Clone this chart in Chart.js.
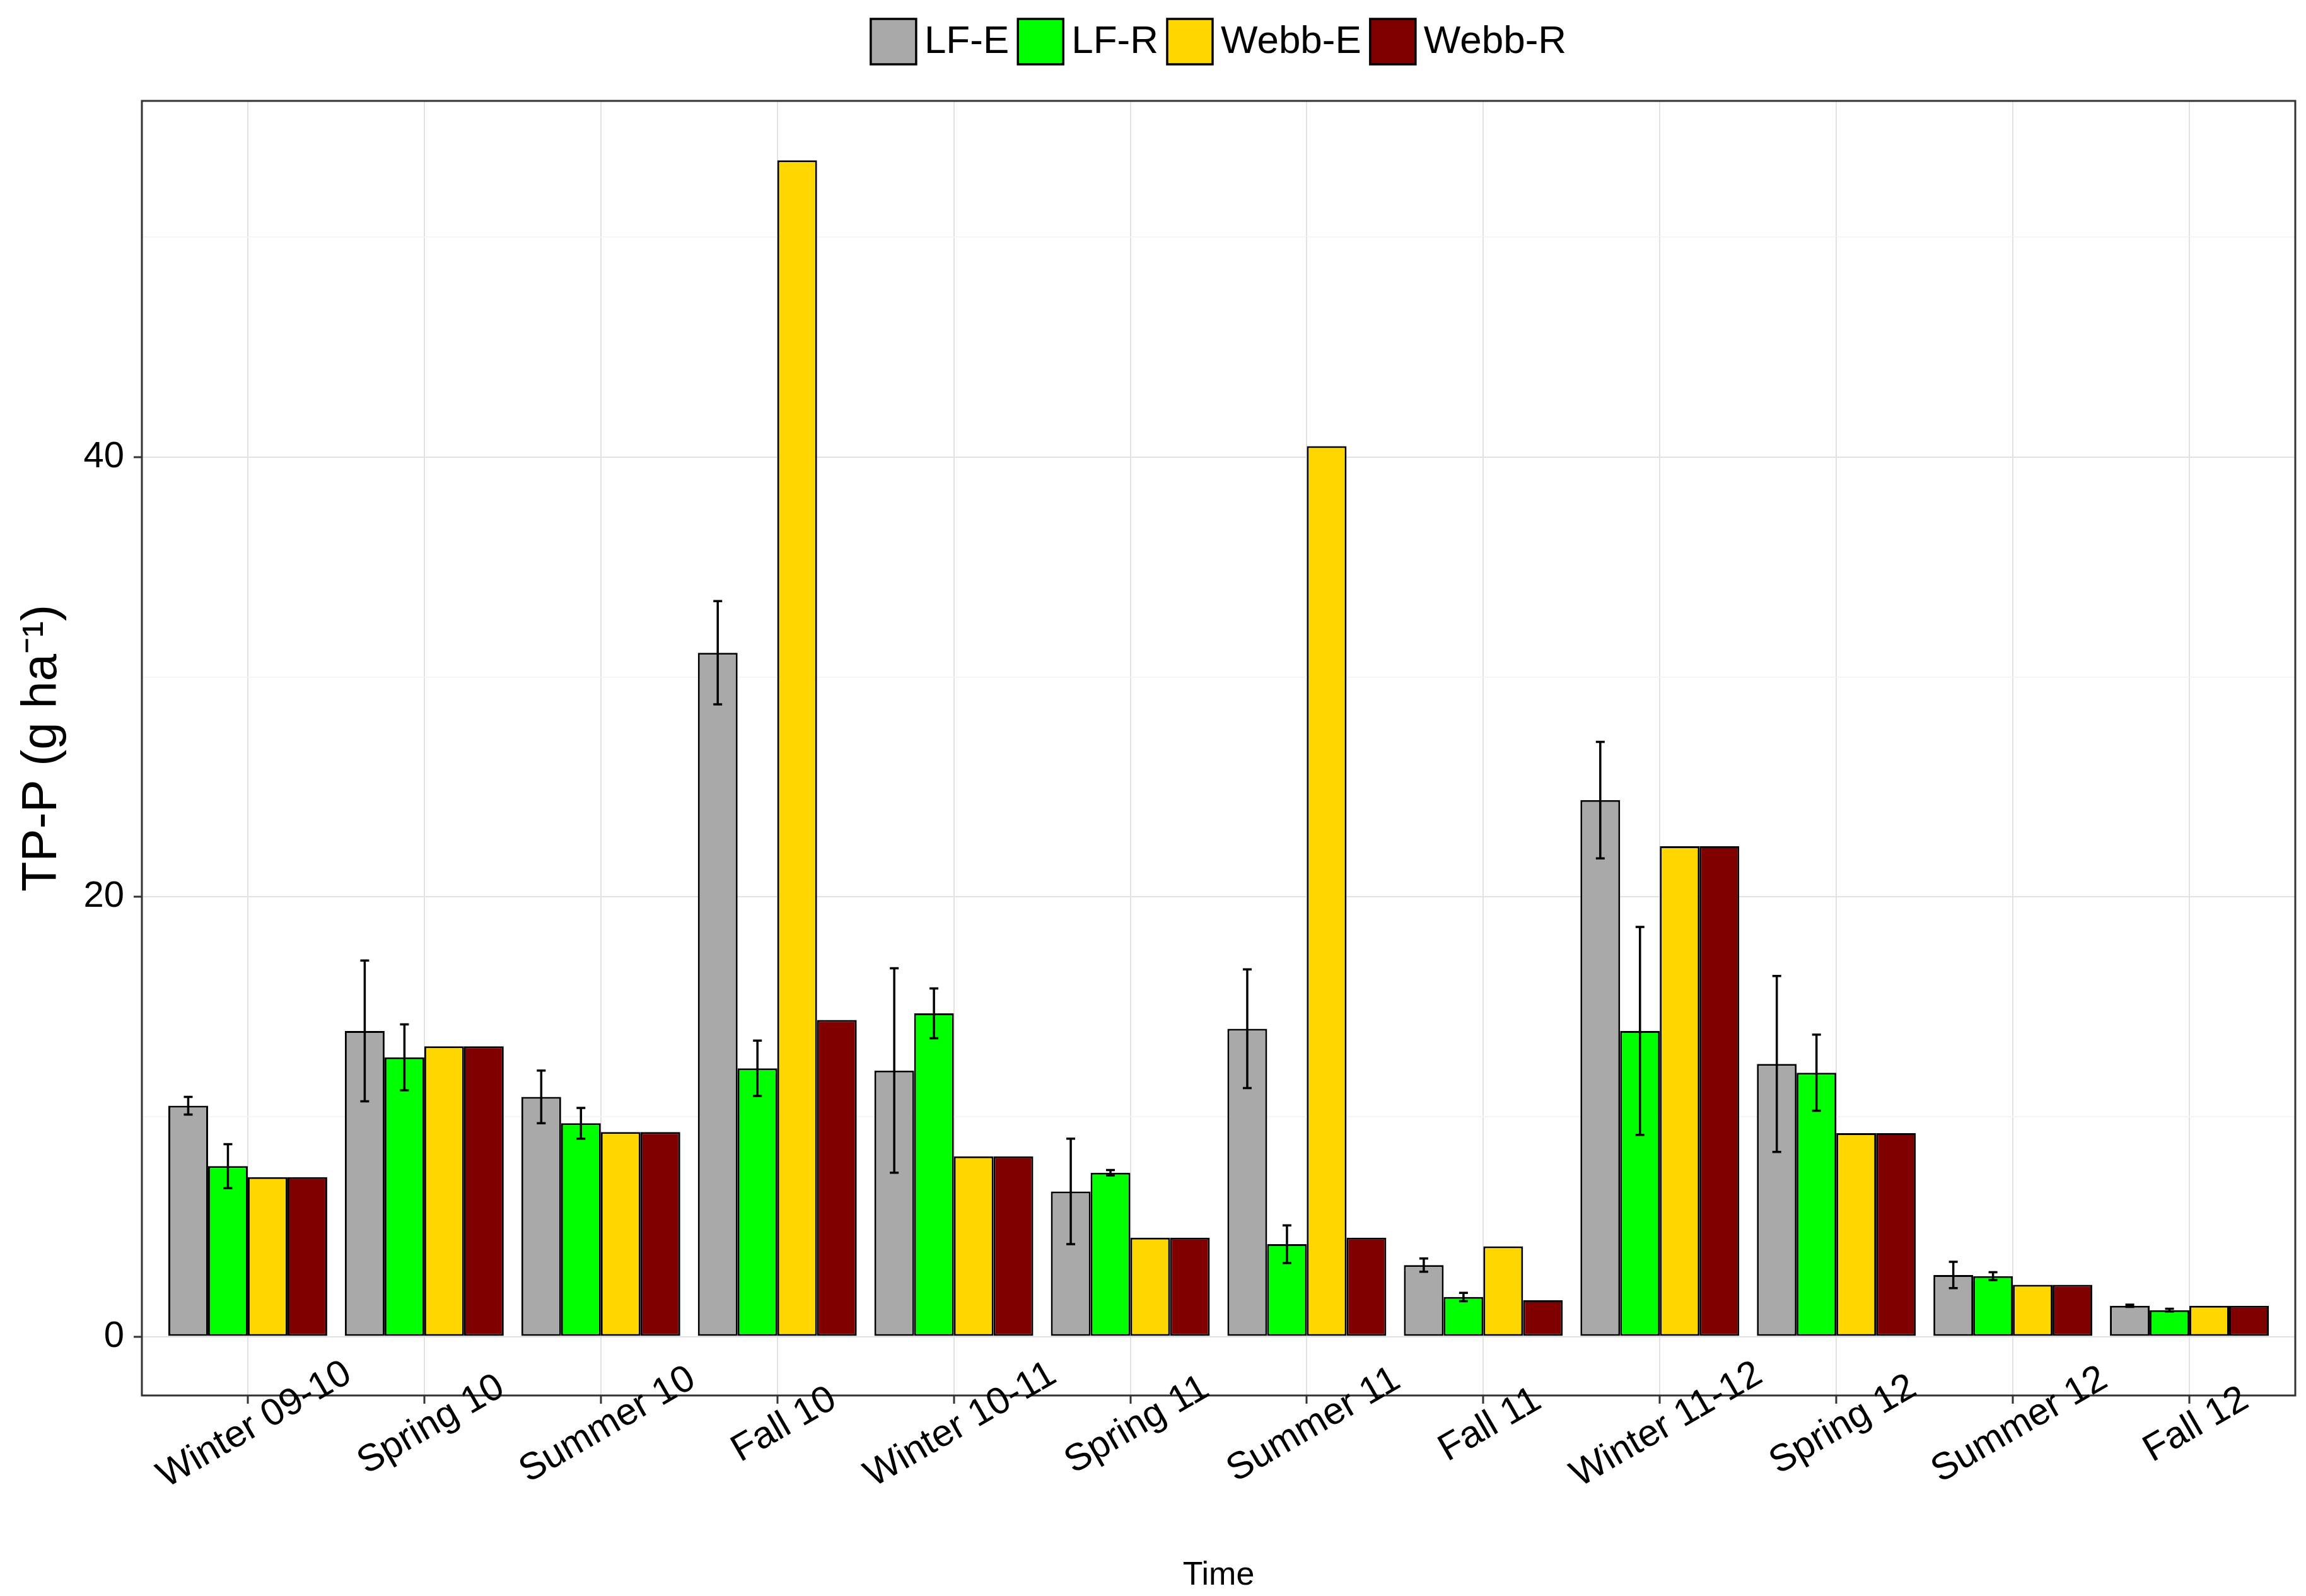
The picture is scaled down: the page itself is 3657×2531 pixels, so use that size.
<!DOCTYPE html>
<html>
<head>
<meta charset="utf-8">
<script src="https://cdn.jsdelivr.net/npm/chart.js@4.4.1/dist/chart.umd.min.js"></script>
<style>
  html, body { margin: 0; padding: 0; background: #fff; }
  canvas { display: block; }
</style>
</head>
<body>
<canvas id="tpChart" width="3657" height="2531"></canvas>
<script>
// ============ DATA ============
const categories = ['Winter 09-10','Spring 10','Summer 10','Fall 10','Winter 10-11','Spring 11',
                    'Summer 11','Fall 11','Winter 11-12','Spring 12','Summer 12','Fall 12'];
const seriesNames = ['LF-E','LF-R','Webb-E','Webb-R'];
const lfE    = [10.5, 13.9, 10.9, 31.1, 12.1, 6.6, 14.0, 3.25, 24.4, 12.4, 2.8, 1.4];
const lfEErr = [0.4, 3.2, 1.2, 2.35, 4.65, 2.4, 2.7, 0.3, 2.65, 4.0, 0.6, 0.05];
const lfR    = [7.75, 12.7, 9.7, 12.2, 14.7, 7.45, 4.2, 1.8, 13.9, 12.0, 2.75, 1.2];
const lfRErr = [1.0, 1.5, 0.7, 1.26, 1.13, 0.12, 0.86, 0.19, 4.73, 1.73, 0.18, 0.06];
const webbE  = [7.25, 13.2, 9.3, 53.5, 8.2, 4.5, 40.5, 4.1, 22.3, 9.25, 2.35, 1.4];
const webbR  = [7.25, 13.2, 9.3, 14.4, 8.2, 4.5, 4.5, 1.65, 22.3, 9.25, 2.35, 1.4];
const yTicks = [0, 10, 20, 30, 40, 50];

// ============ STYLE ============
const FONT = '"Liberation Sans", Arial, Helvetica, sans-serif';
const colors = ['#A9A9A9', '#00FF00', '#FFD700', '#800000'];
const GRID_MAJOR = '#e2e2e2', GRID_MINOR = '#f3f3f3', FRAME = '#333333';

Chart.defaults.font.family = FONT;
Chart.defaults.color = '#000';

const xy = arr => arr.map((v, i) => ({ x: i + 1, y: v }));
const mkSet = (label, data, color, err) => ({
  label: label,
  data: xy(data),
  err: err,
  backgroundColor: color,
  borderColor: '#000',
  borderWidth: 3,
  borderSkipped: false,
  categoryPercentage: 0.9,
  barPercentage: 1.0
});

// ============ PLUGINS ============
// error bars for the LF series
const errorBars = {
  id: 'errorBars',
  afterDatasetsDraw(chart) {
    const { ctx, scales: { y } } = chart;
    ctx.save();
    ctx.strokeStyle = '#000';
    ctx.lineWidth = 3.5;
    chart.data.datasets.forEach((ds, di) => {
      if (!ds.err) return;
      chart.getDatasetMeta(di).data.forEach((bar, i) => {
        const v = ds.data[i].y, e = ds.err[i];
        const top = y.getPixelForValue(v + e), bot = y.getPixelForValue(v - e);
        const cx = bar.x, hw = 7;
        ctx.beginPath();
        ctx.moveTo(cx, top); ctx.lineTo(cx, bot);
        ctx.moveTo(cx - hw, top); ctx.lineTo(cx + hw, top);
        ctx.moveTo(cx - hw, bot); ctx.lineTo(cx + hw, bot);
        ctx.stroke();
      });
    });
    ctx.restore();
  }
};

// panel frame, rotated centred x labels, legend on top
const decor = {
  id: 'decor',
  afterDraw(chart) {
    const { ctx, chartArea: a, scales: { x } } = chart;
    ctx.save();
    ctx.strokeStyle = FRAME;
    ctx.lineWidth = 3;
    ctx.strokeRect(a.left, a.top, a.right - a.left, a.bottom - a.top);

    ctx.fillStyle = '#000';
    ctx.font = '60px ' + FONT;
    ctx.textAlign = 'center';
    ctx.textBaseline = 'middle';
    categories.forEach((c, i) => {
      ctx.save();
      ctx.translate(x.getPixelForValue(i + 1) + 11, a.bottom + 47);
      ctx.rotate(-Math.PI / 6);
      ctx.fillText(c, 0, 0);
      ctx.restore();
    });

    // legend
    const box = 72, gap = 13, sep = 14, top = 30;
    ctx.font = '62px ' + FONT;
    ctx.textAlign = 'left';
    const widths = seriesNames.map(s => ctx.measureText(s).width);
    const total = widths.reduce((s, w) => s + box + gap + w, 0) + sep * (seriesNames.length - 1);
    let cx = (a.left + a.right) / 2 - total / 2;
    seriesNames.forEach((s, i) => {
      ctx.fillStyle = colors[i];
      ctx.fillRect(cx, top, box, box);
      ctx.lineWidth = 3.5;
      ctx.strokeStyle = '#000';
      ctx.strokeRect(cx, top, box, box);
      ctx.fillStyle = '#000';
      ctx.fillText(s, cx + box + gap, top + box / 2 + 1);
      cx += box + gap + widths[i] + sep;
    });
    ctx.restore();
  }
};

// ============ CHART ============
new Chart(document.getElementById('tpChart'), {
  type: 'bar',
  data: {
    datasets: [
      mkSet(seriesNames[0], lfE, colors[0], lfEErr),
      mkSet(seriesNames[1], lfR, colors[1], lfRErr),
      mkSet(seriesNames[2], webbE, colors[2], null),
      mkSet(seriesNames[3], webbR, colors[3], null)
    ]
  },
  options: {
    responsive: false,
    devicePixelRatio: 1,
    animation: false,
    layout: { padding: { top: 160, right: 17, left: 0, bottom: 0 } },
    plugins: { legend: { display: false }, tooltip: { enabled: false } },
    scales: {
      x: {
        type: 'linear',
        min: 0.4,
        max: 12.6,
        offset: false,
        afterBuildTicks: s => { s.ticks = categories.map((c, i) => ({ value: i + 1 })); },
        afterFit: s => { s.height = 318; },
        ticks: { display: false },
        grid: { offset: false, color: GRID_MAJOR, lineWidth: 2, tickColor: FRAME, tickLength: 13, tickWidth: 3 },
        border: { display: false },
        title: { display: true, text: 'Time', font: { size: 52 }, color: '#000', padding: { top: 0, bottom: 1 } }
      },
      y: {
        min: -2.68,
        max: 56.2,
        afterBuildTicks: s => { s.ticks = yTicks.map(v => ({ value: v })); },
        afterFit: s => { s.width = 225; },
        ticks: { font: { size: 58 }, color: '#000', padding: 15, callback: v => v % 20 === 0 ? v : '' },
        grid: {
          color: c => c.tick && c.tick.value % 20 === 0 ? GRID_MAJOR : GRID_MINOR,
          lineWidth: c => c.tick && c.tick.value % 20 === 0 ? 2 : 1.5,
          tickColor: c => c.tick && c.tick.value % 20 === 0 ? FRAME : 'rgba(0,0,0,0)',
          tickLength: 13,
          tickWidth: 3
        },
        border: { display: false },
        title: { display: true, text: 'TP-P (g ha⁻¹)', font: { size: 78 }, color: '#000', padding: { top: 21, bottom: 0 } }
      }
    }
  },
  plugins: [errorBars, decor]
});
</script>
</body>
</html>
